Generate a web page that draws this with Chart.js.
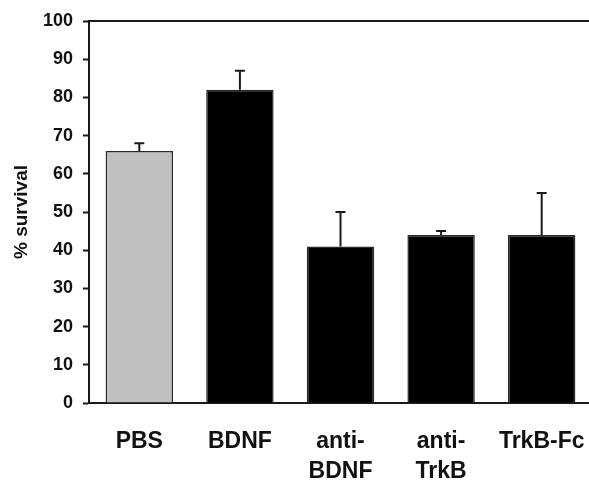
<!DOCTYPE html>
<html>
<head>
<meta charset="utf-8">
<script src="https://cdn.jsdelivr.net/npm/chart.js@4"></script>
<style>
  html, body { margin: 0; padding: 0; background: #fff; overflow: hidden; }
</style>
</head>
<body>
<canvas id="survivalChart" width="592" height="480"></canvas>
<script>
const groups = [['PBS'], ['BDNF'], ['anti-', 'BDNF'], ['anti-', 'TrkB'], ['TrkB-Fc']];
const survival = [66, 82, 41, 44, 44];
const survivalErr = [2, 5, 9, 1, 11];
const yTicks = [0, 10, 20, 30, 40, 50, 60, 70, 80, 90, 100];
const barColors = ['#c0c0c0', '#000000', '#000000', '#000000', '#000000'];

const axisColor = '#1a1a1a';
const fontFamily = 'Arial, "Liberation Sans", Helvetica, sans-serif';

// upward-only error bars
const errorBars = {
  id: 'errorBars',
  afterDatasetsDraw(chart) {
    const ctx = chart.ctx;
    const yScale = chart.scales.y;
    const meta = chart.getDatasetMeta(0);
    ctx.save();
    ctx.strokeStyle = axisColor;
    ctx.lineWidth = 2;
    meta.data.forEach((bar, i) => {
      const top = yScale.getPixelForValue(survival[i]);
      const cap = yScale.getPixelForValue(survival[i] + survivalErr[i]);
      ctx.beginPath();
      ctx.moveTo(bar.x, top);
      ctx.lineTo(bar.x, cap);
      ctx.moveTo(bar.x - 5, cap);
      ctx.lineTo(bar.x + 5, cap);
      ctx.stroke();
    });
    ctx.restore();
  }
};

// top frame line
const topLine = {
  id: 'topLine',
  afterDraw(chart) {
    const a = chart.chartArea;
    const ctx = chart.ctx;
    ctx.save();
    ctx.strokeStyle = axisColor;
    ctx.lineWidth = 2;
    ctx.beginPath();
    ctx.moveTo(a.left, a.top);
    ctx.lineTo(chart.width, a.top);
    ctx.stroke();
    ctx.restore();
  }
};

const ctx = document.getElementById('survivalChart').getContext('2d');
new Chart(ctx, {
  type: 'bar',
  data: {
    labels: groups,
    datasets: [{
      data: survival,
      backgroundColor: barColors,
      borderColor: '#2a2a2a',
      borderWidth: 1.5,
      categoryPercentage: 1,
      barPercentage: 0.67
    }]
  },
  options: {
    responsive: false,
    animation: false,
    layout: { padding: { top: 21, right: 0, bottom: 0, left: 0 } },
    plugins: {
      legend: { display: false },
      tooltip: { enabled: false }
    },
    scales: {
      x: {
        grid: { display: false, drawTicks: false },
        border: { display: true, color: axisColor, width: 2 },
        ticks: {
          color: '#111',
          padding: 24,
          maxRotation: 0,
          autoSkip: false,
          font: { family: fontFamily, size: 23, weight: 'bold', lineHeight: 1.3 }
        },
        afterFit(scale) {
          scale.height = 77;
          scale.paddingLeft = 0;
          scale.paddingRight = 0;
        }
      },
      y: {
        min: 0,
        max: 100,
        afterBuildTicks(scale) { scale.ticks = yTicks.map(v => ({ value: v })); },
        grid: { display: true, drawOnChartArea: false, drawTicks: true, tickLength: 6, tickColor: axisColor, tickWidth: 2 },
        border: { display: true, color: axisColor, width: 2 },
        ticks: {
          color: '#111',
          padding: 10,
          font: { family: fontFamily, size: 18, weight: 'bold' }
        },
        title: {
          display: true,
          text: '% survival',
          color: '#111',
          padding: { top: 10, bottom: 0 },
          font: { family: fontFamily, size: 19, weight: 'bold' }
        },
        afterFit(scale) {
          scale.width = 89;
          scale.paddingTop = 0;
          scale.paddingBottom = 0;
        }
      }
    }
  },
  plugins: [errorBars, topLine]
});
</script>
</body>
</html>
